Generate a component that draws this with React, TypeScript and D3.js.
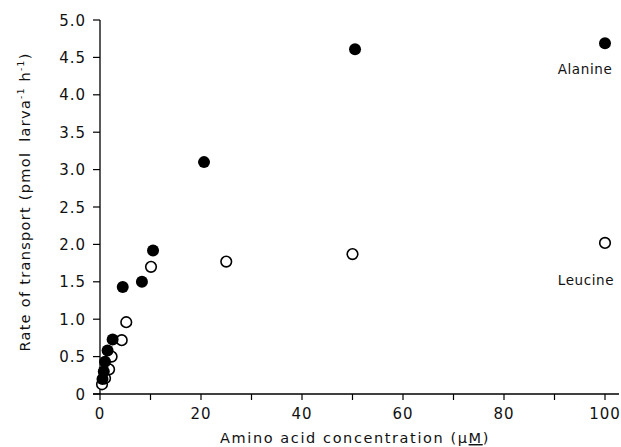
import React from "react";
import * as d3 from "d3";

const alanineX = [0.5, 0.75, 1, 1.5, 2.5, 4.5, 8.3, 10.5, 20.6, 50.5, 100];
const alanineY = [0.2, 0.3, 0.43, 0.58, 0.73, 1.43, 1.5, 1.92, 3.1, 4.61, 4.69];
const leucineX = [0.4, 1.0, 1.8, 2.3, 4.3, 5.2, 10.1, 25, 50, 100];
const leucineY = [0.13, 0.21, 0.33, 0.5, 0.72, 0.96, 1.7, 1.77, 1.87, 2.02];
const xTicks = [0, 10, 20, 30, 40, 50, 60, 70, 80, 90, 100];
const xTickLabels = [0, 20, 40, 60, 80, 100];
const yTicks = [0, 0.5, 1, 1.5, 2, 2.5, 3, 3.5, 4, 4.5, 5];

export default function App() {
  const W = 621, H = 447;
  const x = d3.scaleLinear().domain([0, 100]).range([100, 605]);
  const y = d3.scaleLinear().domain([0, 5]).range([394, 20]);
  const font = "'DejaVu Sans', sans-serif";
  const fmtY = (v: number) => (v === 0 ? "0" : v.toFixed(1));
  return (
    <svg width={W} height={H} style={{ position: "absolute", left: 0, top: 0, background: "#fff" }} fontFamily={font}>
      {/* axes */}
      <line x1={x(0)} x2={x(0)} y1={y(5)} y2={y(0)} stroke="#000" strokeWidth={1.3} />
      <line x1={x(0) - 7} x2={619} y1={y(0)} y2={y(0)} stroke="#000" strokeWidth={1.3} />
      {yTicks.map((t) => (
        <g key={"y" + t}>
          <line x1={x(0) - 7} x2={x(0)} y1={y(t)} y2={y(t)} stroke="#000" strokeWidth={1.2} />
          <text x={86} y={y(t) + 5.5} textAnchor="end" fontSize={15} letterSpacing={1} fill="#111">{fmtY(t)}</text>
        </g>
      ))}
      {xTicks.map((t) => (
        <line key={"x" + t} x1={x(t)} x2={x(t)} y1={y(0)} y2={y(0) + 6} stroke="#000" strokeWidth={1.2} />
      ))}
      {xTickLabels.map((t) => (
        <text key={"xl" + t} x={x(t)} y={419} textAnchor="middle" fontSize={15} letterSpacing={1} fill="#111">{t}</text>
      ))}
      <text x={355} y={443} textAnchor="middle" fontSize={14.5} letterSpacing={1.6} fill="#111">
        Amino acid concentration (μ<tspan textDecoration="underline">M</tspan>)
      </text>
      <text transform="translate(30,202) rotate(-90)" textAnchor="middle" fontSize={14.5} letterSpacing={1.3} fill="#111">
        Rate of transport (pmol<tspan dx={10}>larva</tspan><tspan dy={-6} fontSize={9}>-1</tspan><tspan dy={6}> h</tspan><tspan dy={-6} fontSize={9}>-1</tspan><tspan dy={6}>)</tspan>
      </text>
      {/* data */}
      {leucineX.map((v, i) => (
        <circle key={"l" + i} cx={x(v)} cy={y(leucineY[i])} r={5.3} fill="#fff" stroke="#000" strokeWidth={1.6} />
      ))}
      {alanineX.map((v, i) => (
        <circle key={"a" + i} cx={x(v)} cy={y(alanineY[i])} r={6} fill="#000" />
      ))}
      <text x={585} y={74} textAnchor="middle" fontSize={13.5} letterSpacing={0.6} fill="#111">Alanine</text>
      <text x={586} y={285} textAnchor="middle" fontSize={13.5} letterSpacing={0.6} fill="#111">Leucine</text>
    </svg>
  );
}
